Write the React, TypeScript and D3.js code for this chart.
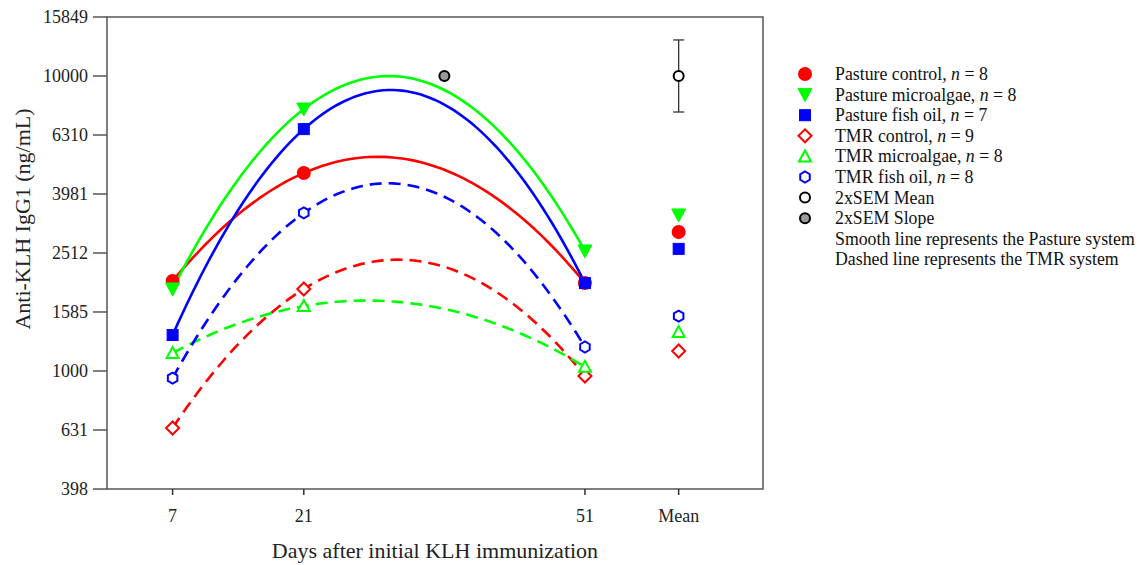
import React from "react";
import * as d3 from "d3";

const days = [7, 21, 51];
const meanDay = 61;
const slopeDay = 36;
const yTicks = [398, 631, 1000, 1585, 2512, 3981, 6310, 10000, 15849];
const xTickDays = [7, 21, 51];
const xTickLabels = ["7", "21", "51"];

const seriesNames = [
  "Pasture control",
  "Pasture microalgae",
  "Pasture fish oil",
  "TMR control",
  "TMR microalgae",
  "TMR fish oil",
];
const seriesN = [8, 8, 7, 9, 8, 8];
const pastureControl = [2018, 4690, 1986];
const pastureMicroalgae = [1897, 7730, 2553];
const pastureFishOil = [1324, 6607, 1986];
const tmrControl = [641, 1897, 962];
const tmrMicroalgae = [1151, 1660, 1033];
const tmrFishOil = [946, 3434, 1206];
const seriesMeans = [2958, 3380, 2594, 1169, 1355, 1535];

const semMean = 10000;
const semMeanLow = 7550;
const semMeanHigh = 13250;
const semSlope = 10000;

const seriesValues = [pastureControl, pastureMicroalgae, pastureFishOil, tmrControl, tmrMicroalgae, tmrFishOil];
const seriesColors = ["#ff0000", "#00ff00", "#0000ff", "#ff0000", "#00ff00", "#0000ff"];
const seriesShapes = ["circle", "down", "square", "diamond", "up", "hex"];
const seriesFilled = [true, true, true, false, false, false];
const seriesDashed = [false, false, false, true, true, true];

const W = 1145, H = 565;
const L = 107, R = 763, T = 17, B = 489;
const FONT = "'Liberation Serif', 'Times New Roman', serif";
const TICK_FS = 18;
const TITLE_FS = 22;
const LEG_FS = 17.8;

const x = d3.scaleLinear().domain([0, 70]).range([L, R]);
const y = d3.scaleLog().domain([398.107, 15848.9]).range([B, T]);

function quadFit(xs: number[], ys: number[]) {
  // least squares quadratic in log10 space
  const n = xs.length;
  let s0 = n, s1 = 0, s2 = 0, s3 = 0, s4 = 0, t0 = 0, t1 = 0, t2 = 0;
  for (let i = 0; i < n; i++) {
    const xi = xs[i], yi = Math.log10(ys[i]);
    s1 += xi; s2 += xi * xi; s3 += xi ** 3; s4 += xi ** 4;
    t0 += yi; t1 += xi * yi; t2 += xi * xi * yi;
  }
  const M = [
    [s4, s3, s2, t2],
    [s3, s2, s1, t1],
    [s2, s1, s0, t0],
  ];
  for (let c = 0; c < 3; c++) {
    for (let r = c + 1; r < 3; r++) {
      const f = M[r][c] / M[c][c];
      for (let k = c; k < 4; k++) M[r][k] -= f * M[c][k];
    }
  }
  const sol = [0, 0, 0];
  for (let r = 2; r >= 0; r--) {
    let s = M[r][3];
    for (let k = r + 1; k < 3; k++) s -= M[r][k] * sol[k];
    sol[r] = s / M[r][r];
  }
  const [a, b, c] = sol;
  return (d: number) => Math.pow(10, a * d * d + b * d + c);
}

function Marker({ shape, cx, cy, color, filled }: any) {
  const fill = filled ? color : "#fff";
  const sw = 2;
  if (shape === "circle") return <circle cx={cx} cy={cy} r={6} fill={fill} stroke={color} strokeWidth={sw} />;
  if (shape === "square") return <rect x={cx - 5.5} y={cy - 5.5} width={11} height={11} fill={fill} stroke={color} strokeWidth={1} />;
  if (shape === "down")
    return <path d={`M${cx - 7},${cy - 6} L${cx + 7},${cy - 6} L${cx},${cy + 7} Z`} fill={fill} stroke={color} strokeWidth={1} />;
  if (shape === "up")
    return <path d={`M${cx - 6},${cy + 5} L${cx + 6},${cy + 5} L${cx},${cy - 6} Z`} fill={fill} stroke={color} strokeWidth={sw} />;
  if (shape === "diamond")
    return <path d={`M${cx},${cy - 6.5} L${cx + 6.5},${cy} L${cx},${cy + 6.5} L${cx - 6.5},${cy} Z`} fill={fill} stroke={color} strokeWidth={sw} />;
  if (shape === "hex") {
    const pts = d3.range(6).map((i) => {
      const ang = (Math.PI / 3) * i + Math.PI / 6;
      return `${cx + 5.5 * Math.cos(ang)},${cy + 5.5 * Math.sin(ang)}`;
    });
    return <polygon points={pts.join(" ")} fill={fill} stroke={color} strokeWidth={sw} />;
  }
  return null;
}

export default function App() {
  const samples = d3.range(days[0], days[days.length - 1] + 0.001, 0.5);

  const curves = seriesValues.map((vals) => {
    const f = quadFit(days, vals);
    return d3
      .line<number>()
      .x((d) => x(d))
      .y((d) => y(f(d)))(samples) as string;
  });

  const legendX = 805;
  const legendTextX = 835;
  const legendY0 = 74;
  const legendDy = 20.6;

  return (
    <svg width={W} height={H} style={{ position: "absolute", left: 0, top: 0, background: "#fff" }}>
      <rect x={0} y={0} width={W} height={H} fill="#fff" />
      {/* frame */}
      <rect x={L} y={T} width={R - L} height={B - T} fill="none" stroke="#555" strokeWidth={1.5} />
      {/* y ticks */}
      {yTicks.map((t) => (
        <g key={t}>
          <line x1={L - 14} x2={L} y1={y(t)} y2={y(t)} stroke="#555" strokeWidth={1.5} />
          <text x={L - 19} y={y(t)} dy="0.34em" textAnchor="end" fontFamily={FONT} fontSize={TICK_FS} fill="#222">
            {t}
          </text>
        </g>
      ))}
      {/* x ticks */}
      {xTickDays.map((d, i) => (
        <g key={d}>
          <line x1={x(d)} x2={x(d)} y1={B} y2={B + 6} stroke="#333" strokeWidth={1.5} />
          <text x={x(d)} y={522} textAnchor="middle" fontFamily={FONT} fontSize={TICK_FS} fill="#222">
            {xTickLabels[i]}
          </text>
        </g>
      ))}
      <line x1={x(meanDay)} x2={x(meanDay)} y1={B} y2={B + 6} stroke="#333" strokeWidth={1.5} />
      <text x={x(meanDay)} y={522} textAnchor="middle" fontFamily={FONT} fontSize={TICK_FS} fill="#222">
        Mean
      </text>

      {/* axis titles */}
      <text x={435} y={558} textAnchor="middle" fontFamily={FONT} fontSize={TITLE_FS} fill="#222">
        Days after initial KLH immunization
      </text>
      <text
        transform={`translate(30,219) rotate(-90)`}
        textAnchor="middle"
        fontFamily={FONT}
        fontSize={TITLE_FS}
        fill="#222"
      >
        Anti-KLH IgG1 (ng/mL)
      </text>

      {/* curves */}
      {curves.map((p, i) => (
        <path
          key={i}
          d={p}
          fill="none"
          stroke={seriesColors[i]}
          strokeWidth={2.6}
          strokeDasharray={seriesDashed[i] ? "12 7" : undefined}
        />
      ))}

      {/* points */}
      {seriesValues.map((vals, i) =>
        vals.map((v, j) => (
          <Marker
            key={`${i}-${j}`}
            shape={seriesShapes[i]}
            cx={x(days[j])}
            cy={y(v)}
            color={seriesColors[i]}
            filled={seriesFilled[i]}
          />
        ))
      )}
      {/* means */}
      {seriesMeans.map((v, i) => (
        <Marker
          key={`m${i}`}
          shape={seriesShapes[i]}
          cx={x(meanDay)}
          cy={y(v)}
          color={seriesColors[i]}
          filled={seriesFilled[i]}
        />
      ))}

      {/* 2xSEM mean with error bar */}
      <line x1={x(meanDay)} x2={x(meanDay)} y1={y(semMeanHigh)} y2={y(semMeanLow)} stroke="#333" strokeWidth={1.3} />
      <line x1={x(meanDay) - 5.5} x2={x(meanDay) + 5.5} y1={y(semMeanHigh)} y2={y(semMeanHigh)} stroke="#333" strokeWidth={1.3} />
      <line x1={x(meanDay) - 5.5} x2={x(meanDay) + 5.5} y1={y(semMeanLow)} y2={y(semMeanLow)} stroke="#333" strokeWidth={1.3} />
      <circle cx={x(meanDay)} cy={y(semMean)} r={5} fill="#fff" stroke="#000" strokeWidth={2} />
      <circle cx={x(slopeDay)} cy={y(semSlope)} r={5} fill="#999" stroke="#000" strokeWidth={2} />

      {/* legend */}
      {seriesNames.map((name, i) => {
        const cy = legendY0 + i * legendDy;
        return (
          <g key={name}>
            <Marker shape={seriesShapes[i]} cx={legendX} cy={cy} color={seriesColors[i]} filled={seriesFilled[i]} />
            <text x={legendTextX} y={cy} dy="0.34em" fontFamily={FONT} fontSize={LEG_FS} fill="#111">
              {name}, <tspan fontStyle="italic">n</tspan> = {seriesN[i]}
            </text>
          </g>
        );
      })}
      <circle cx={legendX} cy={legendY0 + 6 * legendDy} r={5} fill="#fff" stroke="#000" strokeWidth={2} />
      <text x={legendTextX} y={legendY0 + 6 * legendDy} dy="0.34em" fontFamily={FONT} fontSize={LEG_FS} fill="#111">
        2xSEM Mean
      </text>
      <circle cx={legendX} cy={legendY0 + 7 * legendDy} r={5} fill="#999" stroke="#000" strokeWidth={2} />
      <text x={legendTextX} y={legendY0 + 7 * legendDy} dy="0.34em" fontFamily={FONT} fontSize={LEG_FS} fill="#111">
        2xSEM Slope
      </text>
      <text x={legendTextX} y={legendY0 + 8 * legendDy} dy="0.34em" fontFamily={FONT} fontSize={LEG_FS} fill="#111">
        Smooth line represents the Pasture system
      </text>
      <text x={legendTextX} y={legendY0 + 9 * legendDy} dy="0.34em" fontFamily={FONT} fontSize={LEG_FS} fill="#111">
        Dashed line represents the TMR system
      </text>
    </svg>
  );
}
